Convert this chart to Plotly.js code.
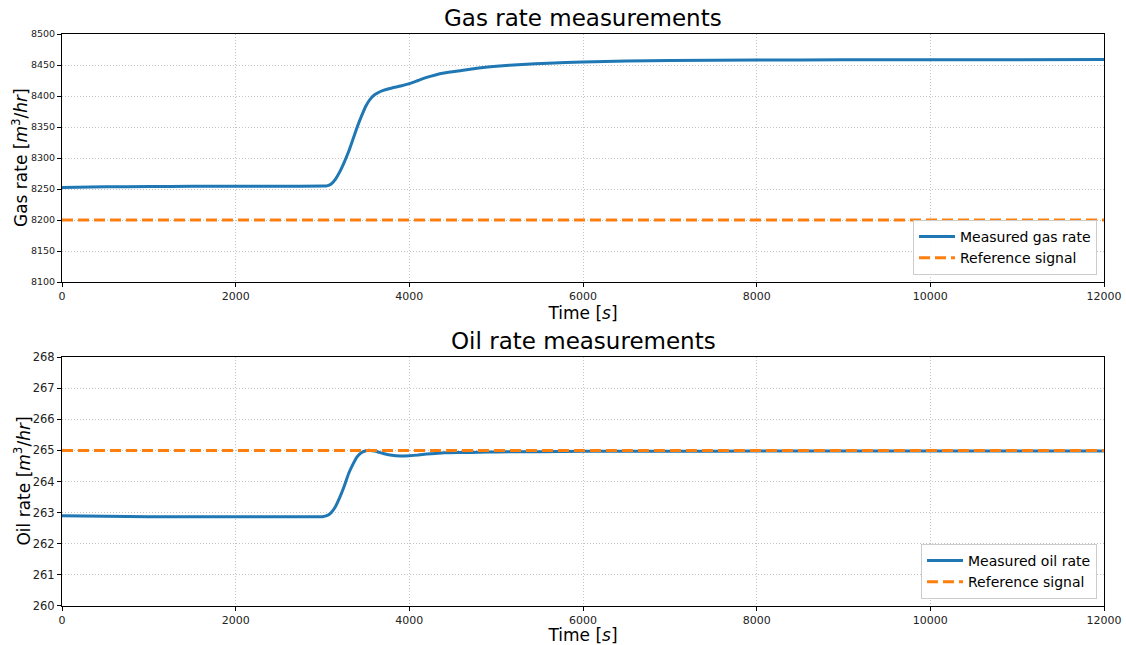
<!DOCTYPE html>
<html>
<head>
<meta charset="utf-8">
<script src="https://cdn.plot.ly/plotly-3.0.1.min.js"></script>
<style>
  html, body { margin: 0; padding: 0; background: #fff; }
  #chart { width: 1126px; height: 645px; }
</style>
</head>
<body>
<div id="chart"></div>
<script>
// Gas flow response (time in seconds, rate in m3/hr)
const gasTime = [0, 500, 1000, 1500, 2000, 2500, 3000, 3050, 3100, 3150, 3200, 3250, 3300, 3350, 3400, 3450, 3500, 3550, 3600, 3650, 3700, 3800, 3900, 4000, 4100, 4200, 4300, 4400, 4600, 4800, 5000, 5300, 5600, 6000, 6500, 7000, 8000, 9000, 10000, 11000, 12000];
const gasRate = [8252.5, 8253.5, 8254, 8254.3, 8254.5, 8254.6, 8254.7, 8255, 8258, 8266, 8278, 8293, 8310, 8330, 8350, 8368, 8384, 8395, 8402, 8406, 8409, 8413, 8416, 8420, 8425, 8430, 8434, 8437, 8441, 8445, 8448, 8451, 8453, 8455, 8456.5, 8457.3, 8458, 8458.3, 8458.5, 8458.6, 8458.7];
const gasRefTime = [0, 12000];
const gasRef = [8200, 8200];

// Oil flow response
const oilTime = [0, 500, 1000, 1500, 2000, 2500, 3000, 3050, 3100, 3150, 3200, 3250, 3300, 3350, 3400, 3450, 3500, 3550, 3600, 3650, 3700, 3800, 3900, 4000, 4100, 4200, 4300, 4400, 4600, 4800, 5000, 5500, 6000, 7000, 8000, 9000, 10000, 11000, 12000];
const oilRate = [262.9, 262.88, 262.87, 262.87, 262.87, 262.87, 262.87, 262.9, 263.0, 263.2, 263.5, 263.85, 264.25, 264.55, 264.8, 264.93, 264.99, 265.0, 264.98, 264.94, 264.9, 264.84, 264.82, 264.83, 264.85, 264.88, 264.9, 264.92, 264.93, 264.94, 264.95, 264.96, 264.97, 264.97, 264.98, 264.98, 264.98, 264.98, 264.98];
const oilRefTime = [0, 12000];
const oilRef = [265, 265];

const xTicks = [0, 2000, 4000, 6000, 8000, 10000, 12000];
const gasTicks = [8100, 8150, 8200, 8250, 8300, 8350, 8400, 8450, 8500];
const oilTicks = [260, 261, 262, 263, 264, 265, 266, 267, 268];

const BLUE = '#1f77b4';
const ORANGE = '#ff7f0e';
const FONT = 'DejaVu Sans, sans-serif';

const traces = [
  { x: gasTime, y: gasRate, xaxis: 'x', yaxis: 'y', mode: 'lines', name: 'Measured gas rate',
    line: { color: BLUE, width: 3, shape: 'spline', smoothing: 0.5 }, legend: 'legend' },
  { x: gasRefTime, y: gasRef, xaxis: 'x', yaxis: 'y', mode: 'lines', name: 'Reference signal',
    line: { color: ORANGE, width: 3, dash: '11px,5px' }, legend: 'legend' },
  { x: oilTime, y: oilRate, xaxis: 'x2', yaxis: 'y2', mode: 'lines', name: 'Measured oil rate',
    line: { color: BLUE, width: 3, shape: 'spline', smoothing: 0.5 }, legend: 'legend2' },
  { x: oilRefTime, y: oilRef, xaxis: 'x2', yaxis: 'y2', mode: 'lines', name: 'Reference signal',
    line: { color: ORANGE, width: 3, dash: '11px,5px' }, legend: 'legend2' }
];

const gridStyle = { showgrid: true, gridcolor: '#c4c4c4', gridwidth: 1, griddash: '1px,2px' };

function xAxis(anchor) {
  return Object.assign({
    anchor: anchor, domain: [0, 1], range: [0, 12000],
    tickvals: xTicks, ticktext: xTicks.map(String),
    ticks: 'outside', ticklen: 4, tickwidth: 1, tickcolor: '#000',
    tickfont: { family: FONT, size: 11, color: '#222' },
    showline: true, mirror: true, linecolor: '#000', linewidth: 1,
    zeroline: false,
    title: { text: 'Time [<i>s</i>]', font: { family: FONT, size: 17, color: '#000' }, standoff: 1 }
  }, gridStyle);
}

function yAxis(anchor, domain, range, ticks, tickSize) {
  return Object.assign({
    anchor: anchor, domain: domain, range: range,
    tickvals: ticks, ticktext: ticks.map(String),
    ticks: 'outside', ticklen: 4, tickwidth: 1, tickcolor: '#000',
    tickfont: { family: FONT, size: tickSize, color: '#222' },
    showline: true, mirror: true, linecolor: '#000', linewidth: 1,
    zeroline: false
  }, gridStyle);
}

const legendStyle = {
  xref: 'paper', yref: 'paper', xanchor: 'right', yanchor: 'bottom',
  bgcolor: 'rgba(255,255,255,0.9)', bordercolor: '#cccccc', borderwidth: 1,
  font: { family: FONT, size: 14, color: '#000' },
  tracegroupgap: 0, itemwidth: 36
};

function yTitle(text, yCenter, xshift) {
  return { text: text, xref: 'paper', yref: 'paper', x: 0, y: yCenter, xshift: xshift,
    xanchor: 'center', yanchor: 'middle', textangle: -90, showarrow: false,
    font: { family: FONT, size: 17, color: '#000' } };
}

const layout = {
  width: 1126, height: 645,
  margin: { l: 62, r: 22, t: 34, b: 39 },
  paper_bgcolor: '#fff', plot_bgcolor: '#fff',
  font: { family: FONT },
  showlegend: true,
  xaxis: xAxis('y'),
  yaxis: yAxis('x', [0.5664, 1], [8100, 8500], gasTicks, 9.5),
  xaxis2: xAxis('y2'),
  yaxis2: yAxis('x2', [0, 0.4353], [260, 268], oilTicks, 11.5),
  legend: Object.assign({}, legendStyle, { x: 0.9933, y: 0.5787 }),
  legend2: Object.assign({}, legendStyle, { x: 0.9933, y: 0.0122 }),
  annotations: [
    { text: 'Gas rate measurements', xref: 'paper', yref: 'paper', x: 0.5, y: 1, yshift: 1,
      xanchor: 'center', yanchor: 'bottom', showarrow: false,
      font: { family: FONT, size: 23, color: '#000' } },
    { text: 'Oil rate measurements', xref: 'paper', yref: 'paper', x: 0.5, y: 0.4353, yshift: 1,
      xanchor: 'center', yanchor: 'bottom', showarrow: false,
      font: { family: FONT, size: 23, color: '#000' } },
    yTitle('Gas rate [<i>m</i><sup>3</sup>/<i>hr</i>]', 0.7832, -42),
    yTitle('Oil rate [<i>m</i><sup>3</sup>/<i>hr</i>]', 0.2176, -40)
  ]
};

Plotly.newPlot('chart', traces, layout, { displayModeBar: false, responsive: false });
</script>
</body>
</html>
